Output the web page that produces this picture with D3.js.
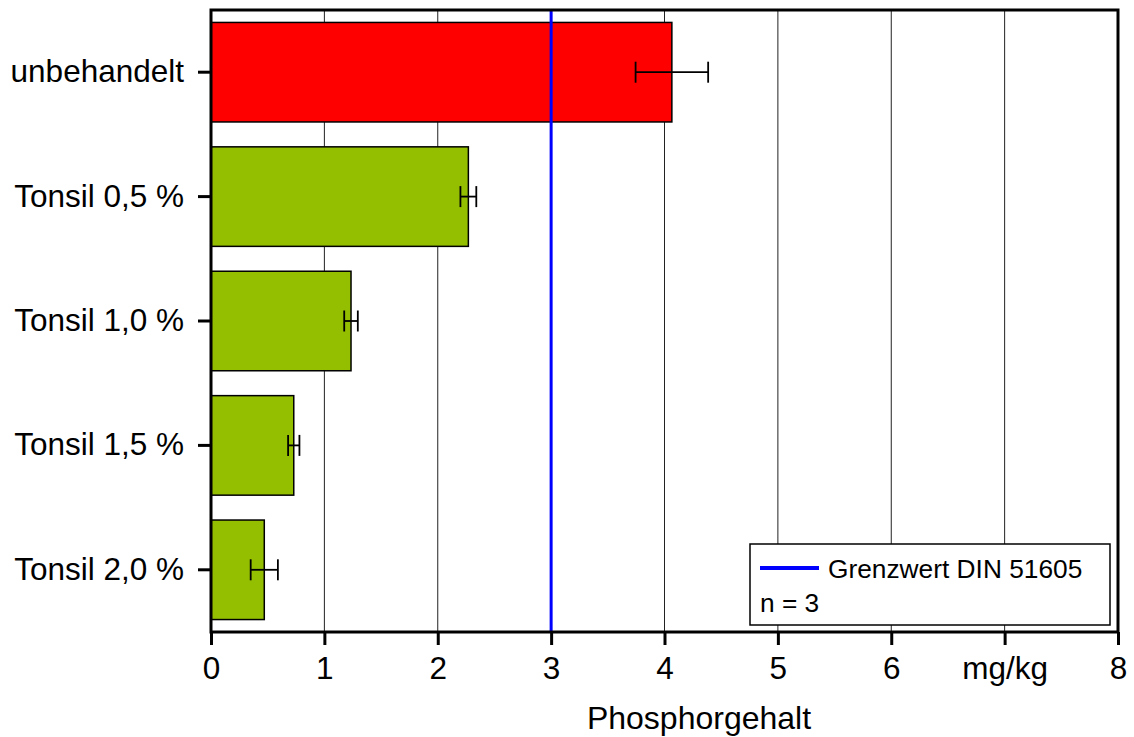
<!DOCTYPE html>
<html>
<head>
<meta charset="utf-8">
<script src="https://cdn.jsdelivr.net/npm/d3@7"></script>
<style>
  body { margin: 0; background: #fff; }
  text { font-family: "Liberation Sans", Arial, sans-serif; fill: #000; }
</style>
</head>
<body>
<div id="plot"></div>
<script>
// data
var categories = ["unbehandelt", "Tonsil 0,5 %", "Tonsil 1,0 %", "Tonsil 1,5 %", "Tonsil 2,0 %"];
var values = [4.065, 2.27, 1.235, 0.73, 0.47];
var errors = [0.32, 0.07, 0.06, 0.05, 0.12];
var barColors = ["#ff0000", "#93bf00", "#93bf00", "#93bf00", "#93bf00"];
var xTicks = [0, 1, 2, 3, 4, 5, 6, 7, 8];
var xTickLabels = ["0", "1", "2", "3", "4", "5", "6", "mg/kg", "8"];
var limitValue = 3;
var legendLabel = "Grenzwert DIN 51605";
var noteLabel = "n = 3";
var xTitle = "Phosphorgehalt";

var width = 1134, height = 737;
var margin = {left: 211, right: 16, top: 10, bottom: 105};
var pw = width - margin.left - margin.right,
    ph = height - margin.top - margin.bottom;

var svg = d3.select("#plot").append("svg")
    .attr("width", width)
    .attr("height", height);

var root = svg.append("g")
    .attr("transform", "translate(" + margin.left + "," + margin.top + ")");

var x = d3.scaleLinear().domain([0, 8]).range([0, pw]);
var y = d3.scaleBand().domain(categories).range([0, ph])
    .paddingInner(0.2).paddingOuter(0.1);

// vertical grid
root.selectAll(".grid")
    .data(xTicks.slice(1, -1))
    .enter().append("line")
    .attr("x1", function(d) { return x(d); })
    .attr("x2", function(d) { return x(d); })
    .attr("y1", 0).attr("y2", ph)
    .style("stroke", "#222").style("stroke-width", 1);

// bars
root.selectAll(".bar")
    .data(values)
    .enter().append("rect")
    .attr("x", x(0))
    .attr("y", function(d, i) { return y(categories[i]); })
    .attr("width", function(d) { return x(d) - x(0); })
    .attr("height", y.bandwidth())
    .style("fill", function(d, i) { return barColors[i]; })
    .style("stroke", "#000").style("stroke-width", 1.5);

// error bars
var eb = root.selectAll(".err")
    .data(values)
    .enter().append("g")
    .attr("transform", function(d, i) { return "translate(0," + (y(categories[i]) + y.bandwidth() / 2) + ")"; });
eb.append("line")
    .attr("x1", function(d, i) { return x(d - errors[i]); })
    .attr("x2", function(d, i) { return x(d + errors[i]); })
    .style("stroke", "#000").style("stroke-width", 1.8);
eb.selectAll(".cap")
    .data(function(d, i) { return [d - errors[i], d + errors[i]]; })
    .enter().append("line")
    .attr("x1", function(d) { return x(d); })
    .attr("x2", function(d) { return x(d); })
    .attr("y1", -10.5).attr("y2", 10.5)
    .style("stroke", "#000").style("stroke-width", 1.8);

// limit line
root.append("line")
    .attr("x1", x(limitValue)).attr("x2", x(limitValue))
    .attr("y1", 0).attr("y2", ph)
    .style("stroke", "#0000ff").style("stroke-width", 3);

// frame
root.append("rect")
    .attr("width", pw).attr("height", ph)
    .style("fill", "none").style("stroke", "#000").style("stroke-width", 3);

// x axis
var xAxis = root.append("g")
    .attr("transform", "translate(0," + ph + ")")
    .call(d3.axisBottom(x).tickValues(xTicks)
        .tickFormat(function(d, i) { return xTickLabels[i]; })
        .tickSizeInner(13).tickSizeOuter(0).tickPadding(12));
xAxis.select(".domain").remove();
xAxis.selectAll(".tick line").style("stroke", "#000").style("stroke-width", 3);
xAxis.selectAll(".tick text")
    .style("font-size", "31.5px").style("font-family", "'Liberation Sans', Arial, sans-serif");

// y axis
var yAxis = root.append("g")
    .call(d3.axisLeft(y).tickSizeInner(13).tickSizeOuter(0).tickPadding(14));
yAxis.select(".domain").remove();
yAxis.selectAll(".tick line").style("stroke", "#000").style("stroke-width", 3);
yAxis.selectAll(".tick text")
    .style("font-size", "31.5px").style("font-family", "'Liberation Sans', Arial, sans-serif");

// axis title
svg.append("text")
    .attr("x", 699).attr("y", 729)
    .attr("text-anchor", "middle")
    .style("font-size", "32px")
    .text(xTitle);

// legend
var lg = svg.append("g").attr("transform", "translate(750,544)");
lg.append("rect")
    .attr("width", 360).attr("height", 81)
    .style("fill", "#fff").style("stroke", "#000").style("stroke-width", 1.5);
lg.append("line")
    .attr("x1", 10).attr("x2", 69).attr("y1", 24).attr("y2", 24)
    .style("stroke", "#0000ff").style("stroke-width", 4);
lg.append("text")
    .attr("x", 78).attr("y", 34)
    .style("font-size", "26.3px")
    .text(legendLabel);
lg.append("text")
    .attr("x", 10).attr("y", 68)
    .style("font-size", "26.3px")
    .text(noteLabel);
</script>
</body>
</html>
